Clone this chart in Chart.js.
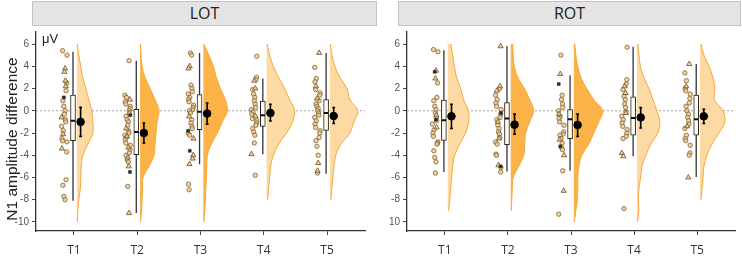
<!DOCTYPE html>
<html>
<head>
<meta charset="utf-8">
<script src="https://cdn.jsdelivr.net/npm/chart.js@4.4.1/dist/chart.umd.min.js"></script>
<style>
  body { margin: 0; width: 742px; height: 256px; position: relative; overflow: hidden; background: #fff;
         font-family: "Liberation Sans", Arial, sans-serif; }
  canvas { position: absolute; top: 0; }
  .strip { position: absolute; top: 1px; height: 25px; box-sizing: border-box; background: #e4e4e4;
           border: 1px solid #c2c2c2; text-align: center; line-height: 23px; font-family: "Open Sans", sans-serif;
           font-size: 16px; color: #222; }
  #ytitle { position: absolute; left: -88px; top: 130px; width: 200px; height: 18px; line-height: 18px;
            text-align: center; font-size: 15.5px; color: #222; transform: rotate(-90deg); }
  #unit { position: absolute; left: 42px; top: 32px; font-size: 13px; color: #222; line-height: 13px; }
</style>
</head>
<body>
<canvas id="lot" width="371" height="256" style="left:0"></canvas>
<canvas id="rot" width="371" height="256" style="left:371px"></canvas>
<div class="strip" style="left:32px;width:345px">LOT</div>
<div class="strip" style="left:398px;width:343px">ROT</div>
<div id="ytitle">N1 amplitude difference</div>
<div id="unit">μV</div>
<script>
const categories = ["T1", "T2", "T3", "T4", "T5"];
const yTicks = [6, 4, 2, 0, -2, -4, -6, -8, -10];
const lotTickLabels = ["6", "4", "2", "0", "-2", "-4", "-6", "-8", "-10"];
const rotTickLabels = ["6", "4", "2", "0", "-2", "-4", "-6", "-8", "10"];

// single subjects (circles / triangles / squares), one list per time point
const lotCircles = [
  [5.4, 5.0, 2.5, 1.8, 0.9, 0.4, 0.0, -0.3, -0.8, -1.0, -1.4, -1.8, -2.5, -2.7, -2.8, -3.7, -6.2, -6.7, -7.7, -8.0],
  [4.5, 1.4, 1.2, 0.8, 0.6, 0.4, 0.2, 0.0, -0.5, -0.8, -1.0, -1.3, -1.8, -2.0, -2.2, -2.4, -2.6, -2.9, -3.1, -3.5, -3.8, -4.0, -4.4, -4.6, -6.8],
  [5.2, 5.0, 2.3, 2.0, 1.7, 1.5, 1.2, 1.0, 0.8, 0.5, 0.3, 0.1, 0.0, -0.2, -0.8, -1.1, -1.4, -1.6, -2.0, -2.2, -6.6, -7.1],
  [4.9, 3.0, 2.8, 1.9, 1.5, 1.2, 0.9, 0.6, 0.3, 0.1, -0.1, -0.3, -0.7, -0.9, -1.1, -1.3, -1.6, -1.9, -2.2, -2.9, -5.8],
  [3.9, 2.9, 2.6, 1.9, 1.6, 1.4, 0.9, 0.6, 0.4, 0.2, 0.0, -0.2, -0.4, -0.6, -0.9, -1.2, -1.5, -1.8, -2.0, -2.4, -2.7, -3.2, -4.0, -5.6]
];
const lotTriangles = [
  [3.8, 3.5, 2.7, 2.2, -0.6, -2.1, -3.4],
  [1.0, -0.2, -1.6, -2.3, -3.3, -4.2, -5.0, -9.2],
  [4.0, 3.8, -0.5, -2.5, -4.0, -4.3, -4.8],
  [2.7, 2.0, -0.5, -3.9],
  [5.2, 2.2, 1.1, -4.7, -5.4]
];
const lotSquares = [[1.2], [-0.4, -5.5], [-1.8, -3.6], [], []];

const rotCircles = [
  [5.5, 5.3, 2.5, 1.2, 0.9, 0.4, 0.1, -0.2, -0.6, -0.9, -1.2, -1.7, -2.0, -2.3, -2.8, -2.9, -3.0, -3.6, -4.2, -4.6, -5.6],
  [2.0, 1.4, 1.0, 0.7, 0.4, 0.1, -0.3, -0.6, -0.8, -1.3, -1.6, -1.9, -2.1, -2.4, -2.8, -3.0, -3.9, -4.0, -5.1, -5.5],
  [5.0, 1.4, 1.0, 0.6, 0.3, 0.0, -0.5, -0.7, -1.0, -1.3, -1.9, -2.1, -2.2, -2.5, -2.9, -3.3, -3.5, -5.4, -9.3],
  [5.7, 2.8, 2.4, 1.9, 1.3, 1.0, 0.6, 0.3, -0.1, -0.5, -0.8, -1.1, -1.4, -1.7, -2.0, -2.3, -2.5, -8.8],
  [3.4, 2.7, 2.0, 1.8, 1.5, 1.1, 0.7, 0.4, 0.0, -0.3, -0.6, -0.9, -1.2, -1.6, -2.2, -2.5, -2.7, -3.1, -3.8, -4.0]
];
const rotTriangles = [
  [3.6, 2.9, -0.4, -1.5],
  [5.8, 2.2, 1.8, -1.0, -2.5, -4.9],
  [3.3, -0.3, -2.6, -4.0, -7.2],
  [2.2, 1.6, -0.2, -3.8, -4.1],
  [4.2, 2.2, -1.4, -6.0]
];
const rotSquares = [[3.5, -0.8], [-0.2, -5.0], [2.4, -3.2], [], []];

// boxplots: [lower whisker, q1, median, q3, upper whisker]
const lotBoxes = [
  [-8.1, -2.7, -0.9, 1.4, 5.3],
  [-9.2, -3.95, -1.9, 0.13, 4.5],
  [-4.8, -1.7, -0.1, 1.45, 5.2],
  [-3.9, -1.4, -0.4, 0.88, 2.9],
  [-5.66, -1.76, -0.2, 1.0, 5.2]
];
const rotBoxes = [
  [-5.5, -2.66, -0.86, 0.95, 5.45],
  [-5.45, -3.05, -0.7, 0.74, 5.8],
  [-5.4, -2.5, -0.77, 0.1, 3.2],
  [-4.1, -2.2, -0.65, 1.25, 5.75],
  [-5.96, -2.2, -0.77, 1.4, 4.2]
];

// mean with confidence interval: [mean, low, high]
const lotMeans = [[-1.0, -2.3, 0.3], [-2.0, -2.9, -1.1], [-0.25, -1.2, 0.7], [-0.2, -0.92, 0.58], [-0.47, -1.15, 0.29]];
const rotMeans = [[-0.5, -1.6, 0.58], [-1.25, -2.1, -0.3], [-1.28, -2.3, -0.3], [-0.6, -1.55, 0.28], [-0.5, -1.15, 0.13]];

// half violins: density read at each level (null = outside the range)
const violinLevels = [6, 5, 4, 3, 2, 1, 0, -1, -2, -3, -4, -5, -6, -7, -8, -9, -10];
const lotDensity = [
  [0.5, 2, 4, 6, 9, 12, 15, 16, 16, 11, 6, 4.5, 4, 3.5, 2, 1, 0.5],
  [0.5, 1, 2, 5, 10, 15, 19, 17, 16, 15, 14, 9, 3, 2.5, 2, 1.5, 0.5],
  [0.5, 5.5, 10, 13, 17, 22, 24, 19, 14, 8, 4, 3.5, 3, 2.5, 2, 1.5, 0.5],
  [0.5, 3, 6.7, 12, 18, 23, 28, 26, 20, 12, 6.7, 4, 3, 2, 1, null, null],
  [0.5, 2, 5, 10, 17, 20, 28, 24, 20, 11, 6, 4, 3, 2, 1, null, null]
];
const rotDensity = [
  [3, 5, 6.7, 9, 13, 16, 20.7, 21, 18, 12, 7, 5, 4, 3, 2, 1, null],
  [2, 2.5, 3.5, 7, 13.7, 19, 23, 19, 15, 14, 13, 8, 2.5, 1.5, 1, 0.5, null],
  [1, 2, 4, 7, 13, 20, 29, 25, 20, 15, 8, 5, 4, 4, 3.5, 2, 0.5],
  [1, 2, 3.5, 7, 12, 16, 20, 23, 21, 14, 9, 5, 3.7, 2, 1.5, 2, 0.5],
  [1, 4, 9, 13, 15, 14.5, 23, 25, 19, 12, 7, 4, 3, 2, 1, null, null]
];
const darkViolin = [false, true, true, false, false];

// layout / style
const xMin = 0.4, xMax = 5.6, yMin = -10.81, yMax = 7.08;
const pointOffset = -0.15, boxOffset = -0.015, meanOffset = 0.105, violinOffset = 0.045;
const densityScale = 1 / 63.3;
const jitter = [-0.03, 0.02, -0.01, 0.04, -0.045, 0.01, 0.035, -0.02, 0, 0.025, -0.04, 0.015, -0.025];
const GAP = { x: null, y: null };

function pointsData(groups, shift) {
  const out = [];
  groups.forEach((vals, i) => vals.forEach((v, k) => {
    out.push({ x: i + 1 + pointOffset + jitter[(k * 3 + i + shift) % jitter.length], y: v });
  }));
  return out;
}

function violin(i, dens) {
  const base = i + 1 + violinOffset;
  const pts = [];
  violinLevels.forEach((lv, k) => {
    if (dens[k] != null) pts.push({ x: base + dens[k] * densityScale, y: lv });
  });
  return {
    type: "line", indexAxis: "y", data: pts, fill: { value: base },
    backgroundColor: darkViolin[i] ? "#fbb247" : "#fdd9a4",
    borderColor: "#f6a836", borderWidth: 1, pointRadius: 0, tension: 0.35, order: 10
  };
}

function panel(id, circles, triangles, squares, boxes, means, density, tickLabels) {
  const whiskers = [], medians = [], errors = [];
  boxes.forEach((b, i) => {
    const x = i + 1 + boxOffset;
    whiskers.push({ x, y: b[4] }, { x, y: b[0] }, GAP);
    medians.push({ x: x - 0.035, y: b[2] }, { x: x + 0.035, y: b[2] }, GAP);
  });
  means.forEach((m, i) => {
    const x = i + 1 + meanOffset, c = 0.022;
    errors.push({ x, y: m[1] }, { x, y: m[2] }, GAP,
      { x: x - c, y: m[2] }, { x: x + c, y: m[2] }, GAP,
      { x: x - c, y: m[1] }, { x: x + c, y: m[1] }, GAP);
  });

  const datasets = [
    { type: "line", data: [{ x: xMin, y: 0 }, { x: xMax, y: 0 }], borderColor: "#a0a0a0",
      borderWidth: 1, borderDash: [2, 2], pointRadius: 0, order: 20 },
    ...density.map((d, i) => violin(i, d)),
    { data: pointsData(circles, 0), pointStyle: "circle", pointRadius: 2.2, borderWidth: 0.9,
      backgroundColor: "rgba(235,200,145,0.8)", borderColor: "rgba(128,92,42,0.85)", order: 15 },
    { data: pointsData(triangles, 5), pointStyle: "triangle", pointRadius: 3, borderWidth: 0.9,
      backgroundColor: "rgba(235,200,145,0.8)", borderColor: "rgba(110,80,35,0.9)", order: 14 },
    { data: pointsData(squares, 2), pointStyle: "rect", pointRadius: 2.1, borderWidth: 0.5,
      backgroundColor: "#2a2a2a", borderColor: "#2a2a2a", order: 13 },
    { type: "line", data: whiskers, borderColor: "#333", borderWidth: 1.3, pointRadius: 0, spanGaps: false, order: 6 },
    { type: "bar", data: boxes.map((b, i) => ({ x: i + 1 + boxOffset, y: [b[1], b[3]] })),
      backgroundColor: "#fffbe8", borderColor: "#222", borderWidth: 1, borderSkipped: false,
      barThickness: 5, order: 5 },
    { type: "line", data: medians, borderColor: "#111", borderWidth: 2, pointRadius: 0, spanGaps: false, order: 4 },
    { type: "line", data: errors, borderColor: "#000", borderWidth: 1.6, pointRadius: 0, spanGaps: false, order: 2 },
    { data: means.map((m, i) => ({ x: i + 1 + meanOffset, y: m[0] })), pointRadius: 3.8,
      backgroundColor: "#000", borderColor: "#000", order: 1 }
  ];

  new Chart(document.getElementById(id), {
    type: "scatter",
    data: { datasets },
    options: {
      responsive: false,
      animation: false,
      layout: { padding: { top: 32, right: id === "lot" ? 6 : 7, left: 0, bottom: 0 } },
      plugins: { legend: { display: false }, tooltip: { enabled: false } },
      scales: {
        x: {
          type: "linear", min: xMin, max: xMax, offset: false,
          afterBuildTicks: (s) => { s.ticks = categories.map((c, i) => ({ value: i + 1 })); },
          afterFit: (s) => { s.height = 25; },
          ticks: {
            callback: (v) => categories[Math.round(v) - 1], autoSkip: false, maxRotation: 0,
            color: "#333", padding: 8, font: { family: "Open Sans", size: 12 }
          },
          grid: { offset: false, drawOnChartArea: false, tickLength: 4, tickColor: "#444" },
          border: { color: "#333", width: 1.3 }
        },
        y: {
          type: "linear", min: yMin, max: yMax, beginAtZero: false,
          afterBuildTicks: (s) => { s.ticks = yTicks.map((v) => ({ value: v })); },
          afterFit: (s) => { s.width = 36; },
          ticks: {
            callback: (v, i) => tickLabels[i], color: "#555", padding: 3,
            font: { family: "Liberation Sans", size: 10 }
          },
          grid: { drawOnChartArea: false, tickLength: 4, tickColor: "#444" },
          border: { color: "#333", width: 1.3 }
        }
      }
    }
  });
}

panel("lot", lotCircles, lotTriangles, lotSquares, lotBoxes, lotMeans, lotDensity, lotTickLabels);
panel("rot", rotCircles, rotTriangles, rotSquares, rotBoxes, rotMeans, rotDensity, rotTickLabels);
</script>
</body>
</html>
